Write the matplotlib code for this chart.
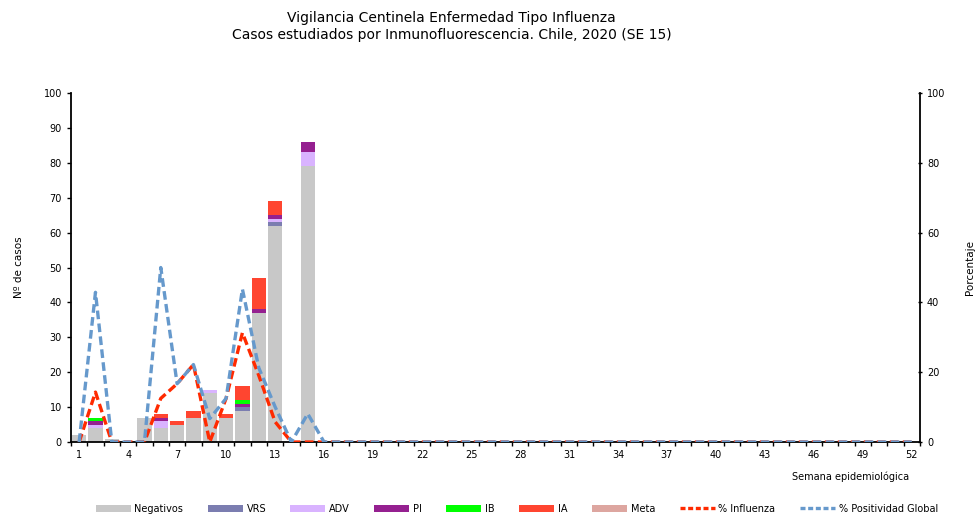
import matplotlib
matplotlib.use("Agg")
import matplotlib.pyplot as plt
import numpy as np
from matplotlib.patches import Patch
from matplotlib.lines import Line2D

plt.rcParams["font.family"] = "DejaVu Sans"

# weeks 1..52 (SE 15 is the last reported week)
weeks = list(range(1, 53))
rest = [0] * 37

negativos = [2, 4, 1, 0, 7, 4, 5, 7, 14, 7, 9, 37, 62, 0, 79] + rest
vrs       = [0, 0, 0, 0, 0, 0, 0, 0, 0, 0, 1, 0, 1, 0, 0] + rest
adv       = [0, 1, 0, 0, 0, 2, 0, 0, 1, 0, 0, 0, 1, 0, 4] + rest
pi        = [0, 1, 0, 0, 0, 1, 0, 0, 0, 0, 1, 1, 1, 0, 3] + rest
ib        = [0, 1, 0, 0, 0, 0, 0, 0, 0, 0, 1, 0, 0, 0, 0] + rest
ia        = [0, 0, 0, 0, 0, 1, 1, 2, 0, 1, 4, 9, 4, 0, 0] + rest
meta      = [0] * 52

pct_influenza = [0, 14.3, 0, 0, 0, 12.5, 16.7, 22.2, 0, 12.5, 31.3, 19.1, 5.8, 0, 0] + rest
pct_positividad = [0, 42.9, 0, 0, 0, 50.0, 16.7, 22.2, 6.7, 12.5, 43.8, 21.3, 10.1, 0, 8.1] + rest

series = [
    ("Negativos", negativos, "#c8c8c8"),
    ("VRS", vrs, "#7b7db0"),
    ("ADV", adv, "#d9b3ff"),
    ("PI", pi, "#952090"),
    ("IB", ib, "#00ff00"),
    ("IA", ia, "#ff4530"),
    ("Meta", meta, "#dda6a0"),
]
red = "#ff2a00"
blue = "#6699cc"

fig = plt.figure(figsize=(9.75, 5.15), dpi=100)
ax = fig.add_axes([0.0728, 0.1417, 0.8708, 0.6777])
ax2 = ax.twinx()

x = np.array(weeks)
bottom = np.zeros(len(weeks))
for name, vals, col in series:
    v = np.array(vals, dtype=float)
    ax.bar(x, v, width=0.88, bottom=bottom, color=col, edgecolor="none", zorder=2)
    bottom += v

ax2.plot(x, pct_influenza, color=red, lw=2.4, dashes=(2.6, 1.3), zorder=3)
ax2.plot(x, pct_positividad, color=blue, lw=2.4, dashes=(2.6, 1.3), zorder=4)

ax.set_xlim(0.5, 52.5)
ax.set_ylim(0, 100)
ax2.set_ylim(0, 100)
ax.set_yticks(range(0, 101, 10))
ax2.set_yticks(range(0, 101, 20))

ax.set_xticks(list(range(1, 53, 3)))
ax.set_xticks(np.arange(0.5, 53, 1), minor=True)
ax.tick_params(axis="x", which="major", length=0, labelsize=7, pad=6)
ax.tick_params(axis="x", which="minor", length=3, width=1)
ax.tick_params(axis="y", labelsize=7, length=3, width=1)
ax2.tick_params(axis="y", labelsize=7, length=3, width=1, direction="inout")

for a in (ax, ax2):
    a.spines["top"].set_visible(False)
    for s in ("left", "right", "bottom"):
        a.spines[s].set_linewidth(1.3)
ax.spines["right"].set_visible(False)
ax2.spines["left"].set_visible(False)
ax2.spines["bottom"].set_visible(False)
ax.set_zorder(ax2.get_zorder() - 1)
ax.patch.set_visible(False)

ax.set_ylabel("Nº de casos", fontsize=7.5, labelpad=14)
ax2.set_ylabel("Porcentaje", fontsize=7.5, rotation=90, labelpad=14)
ax.set_xlabel("Semana epidemiológica", fontsize=7)
ax.xaxis.set_label_coords(0.918, -0.085)

fig.text(0.463, 0.965, "Vigilancia Centinela Enfermedad Tipo Influenza",
         ha="center", va="center", fontsize=10)
fig.text(0.463, 0.932, "Casos estudiados por Inmunofluorescencia. Chile, 2020 (SE 15)",
         ha="center", va="center", fontsize=10)

handles = [Patch(facecolor=c, edgecolor="none") for _, _, c in series]
handles += [Line2D([], [], color=red, lw=2.4, dashes=(1.5, 0.8)),
            Line2D([], [], color=blue, lw=2.4, dashes=(1.5, 0.8))]
labels = [n for n, _, _ in series] + ["% Influenza", "% Positividad Global"]
fig.legend(handles, labels, ncol=9, loc="center", bbox_to_anchor=(0.53, 0.012),
           frameon=False, fontsize=7, handlelength=3.6, handleheight=0.7,
           handletextpad=0.4, columnspacing=2.5)

fig.savefig("out.png", dpi=100)
